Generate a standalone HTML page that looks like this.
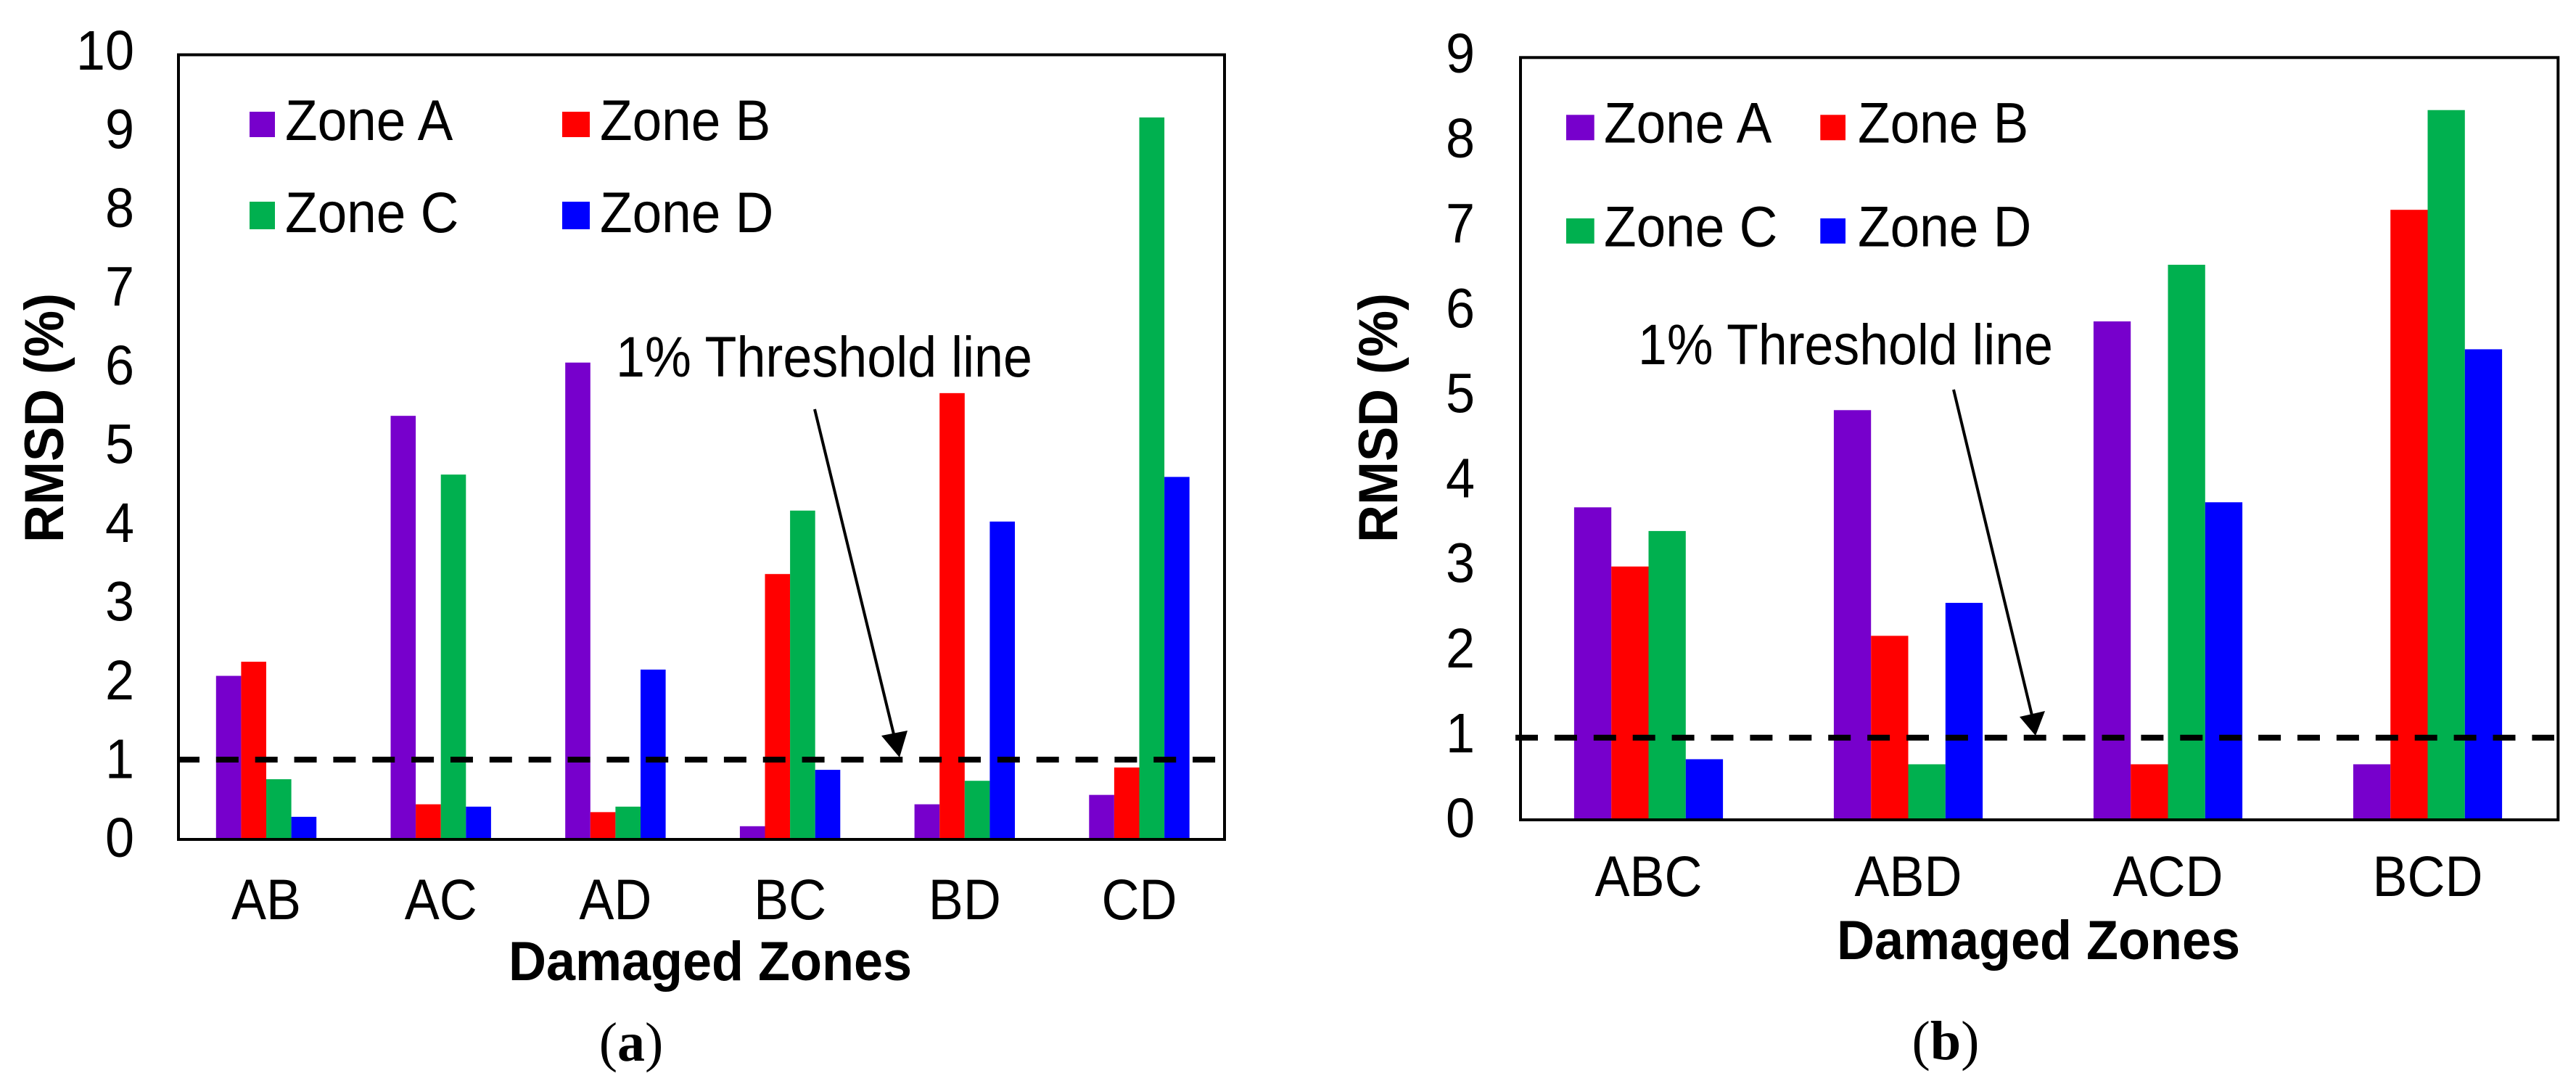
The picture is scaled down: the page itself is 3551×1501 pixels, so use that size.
<!DOCTYPE html>
<html lang="en">
<head>
<meta charset="utf-8">
<title>RMSD by damaged zones</title>
<style>
html,body{margin:0;padding:0;background:#fff;width:3551px;height:1501px;overflow:hidden}
svg{display:block}
text{font-family:"Liberation Sans",Arial,sans-serif;fill:#000}
.tick,.note{font-size:72px}
.leg{font-size:73px}
.title{font-size:72px;font-weight:700}
.cap{font-family:"Liberation Serif","Times New Roman",serif;font-size:76px}
.cap tspan{font-weight:700}
</style>
</head>
<body>
<svg id="figure" xmlns="http://www.w3.org/2000/svg" width="3551" height="1501" viewBox="0 0 3551 1501">
  <rect x="0" y="0" width="3551" height="1501" fill="#fff"/>

  <g id="panel-a">
    <g id="bars-a"></g>
    <g id="ticks-y-a"></g>
    <g id="ticks-x-a"></g>
    <line id="thresh-a" stroke="#000" stroke-width="8" stroke-dasharray="31 22.85"/>
    <rect x="246" y="75.5" width="1442" height="1081.5" fill="none" stroke="#000" stroke-width="4"/>
    <g>
      <g><rect x="344" y="154" width="35" height="35" fill="#7700cc"/><text class="leg" transform="translate(393 193) scale(1 1.075)">Zone A</text></g>
      <g><rect x="775" y="154" width="38" height="35" fill="#ff0000"/><text class="leg" transform="translate(827 193) scale(1 1.075)">Zone B</text></g>
      <g><rect x="344" y="278" width="35" height="38" fill="#00b04f"/><text class="leg" transform="translate(393 320) scale(1 1.075)">Zone C</text></g>
      <g><rect x="775" y="278" width="38" height="38" fill="#0000ff"/><text class="leg" transform="translate(827 320) scale(1 1.075)">Zone D</text></g>
    </g>
    <text class="note" transform="translate(849 519) scale(1 1.09)" textLength="574" lengthAdjust="spacingAndGlyphs">1% Threshold line</text>
    <g>
      <line x1="1123" y1="564" x2="1232" y2="1012" stroke="#000" stroke-width="4"/>
      <polygon points="1240,1044 1215,1014 1251,1007" fill="#000"/>
    </g>
    <text class="title" text-anchor="middle" transform="translate(87 576) rotate(-90) scale(1 1.06)">RMSD (%)</text>
    <text class="title" text-anchor="middle" transform="translate(979 1351) scale(1 1.06)">Damaged Zones</text>
    <text class="cap" text-anchor="middle" x="870" y="1462">(<tspan>a</tspan>)</text>
  </g>

  <g id="panel-b">
    <g id="bars-b"></g>
    <g id="ticks-y-b"></g>
    <g id="ticks-x-b"></g>
    <line id="thresh-b" stroke="#000" stroke-width="8" stroke-dasharray="31 22.9"/>
    <rect x="2096" y="79.3" width="1430.3" height="1050.7" fill="none" stroke="#000" stroke-width="4"/>
    <g>
      <g><rect x="2159" y="158.3" width="38.7" height="35" fill="#7700cc"/><text class="leg" transform="translate(2211 196.7) scale(1 1.075)">Zone A</text></g>
      <g><rect x="2509.3" y="158.3" width="34.7" height="35" fill="#ff0000"/><text class="leg" transform="translate(2561 196.7) scale(1 1.075)">Zone B</text></g>
      <g><rect x="2159" y="301" width="38.7" height="34.7" fill="#00b04f"/><text class="leg" transform="translate(2211 339.3) scale(1 1.075)">Zone C</text></g>
      <g><rect x="2509.3" y="301" width="34.7" height="34.7" fill="#0000ff"/><text class="leg" transform="translate(2561 339.3) scale(1 1.075)">Zone D</text></g>
    </g>
    <text class="note" transform="translate(2258 502) scale(1 1.09)" textLength="572" lengthAdjust="spacingAndGlyphs">1% Threshold line</text>
    <g>
      <line x1="2693" y1="537" x2="2802" y2="990" stroke="#000" stroke-width="4"/>
      <polygon points="2806,1014 2784,988 2819,980" fill="#000"/>
    </g>
    <text class="title" text-anchor="middle" transform="translate(1926 576) rotate(-90) scale(1 1.06)">RMSD (%)</text>
    <text class="title" text-anchor="middle" transform="translate(2810 1322) scale(1 1.06)">Damaged Zones</text>
    <text class="cap" text-anchor="middle" x="2682" y="1460">(<tspan>b</tspan>)</text>
  </g>
</svg>
<script>
// Panel (a) data
var categoriesA = ["AB", "AC", "AD", "BC", "BD", "CD"];
var zoneA_a = [2.07, 5.39, 6.07, 0.15, 0.43, 0.55];
var zoneB_a = [2.25, 0.43, 0.33, 3.37, 5.68, 0.90];
var zoneC_a = [0.75, 4.64, 0.40, 4.18, 0.73, 9.20];
var zoneD_a = [0.27, 0.40, 2.15, 0.87, 4.04, 4.61];
var yTicksA = ["0", "1", "2", "3", "4", "5", "6", "7", "8", "9", "10"];
var thresholdA = 1;

// Panel (b) data
var categoriesB = ["ABC", "ABD", "ACD", "BCD"];
var zoneA_b = [3.68, 4.83, 5.88, 0.64];
var zoneB_b = [2.98, 2.16, 0.64, 7.20];
var zoneC_b = [3.40, 0.64, 6.55, 8.38];
var zoneD_b = [0.70, 2.55, 3.74, 5.55];
var yTicksB = ["0", "1", "2", "3", "4", "5", "6", "7", "8", "9"];
var thresholdB = 0.955;

var seriesColors = ["#7700cc", "#ff0000", "#00b04f", "#0000ff"];
var SVGNS = "http://www.w3.org/2000/svg";

function drawPanel(cfg) {
  var barsG = document.getElementById(cfg.barsId);
  var ticksY = document.getElementById(cfg.ticksYId);
  var ticksX = document.getElementById(cfg.ticksXId);
  function yScale(v) { return cfg.y0 - v * cfg.yUnit; }
  function bandCenter(i) { return cfg.firstCenter + i * cfg.step; }
  var n = cfg.series.length;

  cfg.series.forEach(function (vals, s) {
    vals.forEach(function (v, i) {
      var left = bandCenter(i) - n * cfg.barW / 2 + s * cfg.barW;
      var top = yScale(v);
      var r = document.createElementNS(SVGNS, "rect");
      r.setAttribute("x", left);
      r.setAttribute("y", top);
      r.setAttribute("width", cfg.barW);
      r.setAttribute("height", cfg.y0 - top);
      r.setAttribute("fill", seriesColors[s]);
      
      
      barsG.appendChild(r);
    });
  });

  cfg.yTicks.forEach(function (label) {
    var v = Number(label);
    var t = document.createElementNS(SVGNS, "text");
    t.setAttribute("class", "tick");
    t.setAttribute("text-anchor", "end");
    t.setAttribute("transform", "translate(" + cfg.tickRight + " " + (yScale(v) + cfg.tickShift - v * cfg.tickDrift) + ") scale(1 1.07)");
    
    
    t.textContent = label;
    ticksY.appendChild(t);
  });

  cfg.categories.forEach(function (label, i) {
    var t = document.createElementNS(SVGNS, "text");
    t.setAttribute("class", "tick");
    t.setAttribute("text-anchor", "middle");
    t.setAttribute("transform", "translate(" + bandCenter(i) + " " + cfg.catBase + ") scale(1 1.09)");
    
    
    t.textContent = label;
    ticksX.appendChild(t);
  });

  var line = document.getElementById(cfg.threshId);
  line.setAttribute("x1", cfg.threshX1);
  line.setAttribute("x2", cfg.threshX2);
  line.setAttribute("y1", yScale(cfg.threshold));
  line.setAttribute("y2", yScale(cfg.threshold));
}

drawPanel({
  barsId: "bars-a", ticksYId: "ticks-y-a", ticksXId: "ticks-x-a", threshId: "thresh-a",
  series: [zoneA_a, zoneB_a, zoneC_a, zoneD_a],
  categories: categoriesA, yTicks: yTicksA, threshold: thresholdA,
  y0: 1155, yUnit: 107.95, firstCenter: 367, step: 240.7, barW: 34.6,
  tickRight: 185, tickShift: 26, tickDrift: 0.55, catBase: 1267,
  threshX1: 244, threshX2: 1676
});

drawPanel({
  barsId: "bars-b", ticksYId: "ticks-y-b", ticksXId: "ticks-x-b", threshId: "thresh-b",
  series: [zoneA_b, zoneB_b, zoneC_b, zoneD_b],
  categories: categoriesB, yTicks: yTicksB, threshold: thresholdB,
  y0: 1128, yUnit: 116.5, firstCenter: 2272.5, step: 358, barW: 51.3,
  tickRight: 2033, tickShift: 26, tickDrift: 0.6, catBase: 1235,
  threshX1: 2089, threshX2: 3521
});
</script>
</body>
</html>
